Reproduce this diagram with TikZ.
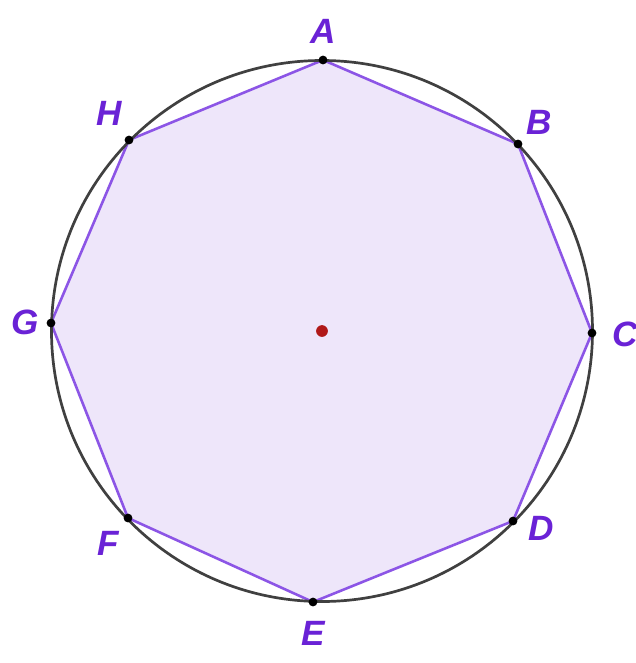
\documentclass[tikz,border=0pt]{standalone}
\usepackage{fontspec}
\setmainfont{Liberation Sans}
\definecolor{lab}{HTML}{6A22D6}
\definecolor{poly}{HTML}{8C55E6}
\definecolor{polyfill}{HTML}{EEE6FA}
\definecolor{circ}{HTML}{404040}
\definecolor{cen}{HTML}{B01818}
\begin{document}
\begin{tikzpicture}[x=0.03cm,y=-0.03cm,
  vlabel/.style={text=lab,font=\fontsize{30}{30}\selectfont\bfseries\itshape,inner sep=0pt},
  vdot/.style={circle,fill=black,inner sep=0pt,minimum size=7.5pt}]
\useasboundingbox (0,0) rectangle (635,663);
\fill[white] (0,0) rectangle (635,663);
\coordinate (O) at (322,331);
\coordinate (A) at (323,60);
\coordinate (B) at (518,144);
\coordinate (C) at (592,333);
\coordinate (D) at (513,521);
\coordinate (E) at (313,602);
\coordinate (F) at (128,518);
\coordinate (G) at (51,323);
\coordinate (H) at (129,140);
\filldraw[fill=polyfill,draw=poly,line width=2.2pt,line join=round]
  (A) -- (B) -- (C) -- (D) -- (E) -- (F) -- (G) -- (H) -- cycle;
\draw[circ,line width=2.3pt] (O) circle (270.5);
\foreach \p in {A,B,C,D,E,F,G,H} \node[vdot] (d\p) at (\p) {};
\node[circle,fill=cen,inner sep=0pt,minimum size=10pt] (cd) at (O) {};
\node[vlabel] (lA) at (323,31) {A};
\node[vlabel] (lB) at (539,122) {B};
\node[vlabel] (lC) at (625,334) {C};
\node[vlabel] (lD) at (541,528) {D};
\node[vlabel] (lE) at (313,633) {E};
\node[vlabel] (lF) at (108,543) {F};
\node[vlabel] (lG) at (25,322) {G};
\node[vlabel] (lH) at (109,113) {H};
\end{tikzpicture}
\end{document}
